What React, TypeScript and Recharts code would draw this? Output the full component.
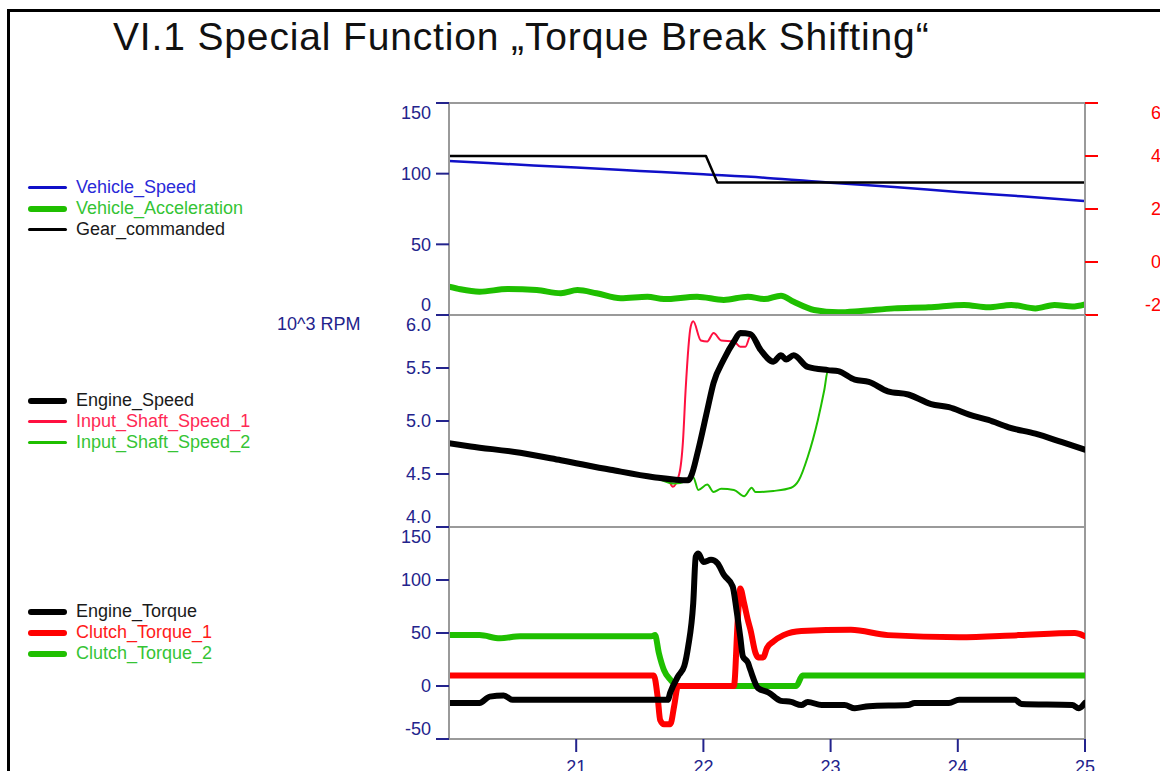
import React from "react";
import { LineChart, Line, XAxis, YAxis, ReferenceLine } from "recharts";

type Pt = [number, number]; // [time s, value]

const FONT = "'Liberation Sans', Arial, Helvetica, sans-serif";
const NAVY = "#23238c";
const FRAME = "#9a9a9a";

// axis ticks
const timeTicks = [21, 22, 23, 24, 25];
const speedTicks = [0, 50, 100, 150];
const accelTicks = [-2, 0, 2, 4, 6];
const rpmTicks = [4.0, 4.5, 5.0, 5.5, 6.0];
const torqueTicks = [-50, 0, 50, 100, 150];

// panel 1: vehicle
const vehicleSpeed: Pt[] = [
  [20, 108.9], [20.5, 106.6], [21, 104.3], [21.5, 101.9], [22, 99.5],
  [22.5, 97.0], [23, 93.6], [23.5, 90.6], [24, 87.1], [24.5, 84.0], [25, 80.6],
];
const vehicleAcceleration: Pt[] = [
  [20.0, -0.93], [20.09, -1.03], [20.24, -1.12], [20.46, -1.02], [20.69, -1.06],
  [20.88, -1.18], [21.01, -1.06], [21.16, -1.18], [21.35, -1.37], [21.56, -1.31],
  [21.69, -1.4], [21.95, -1.31], [22.16, -1.43], [22.35, -1.31], [22.48, -1.4],
  [22.61, -1.27], [22.71, -1.5], [22.87, -1.81], [23.06, -1.9], [23.24, -1.85],
  [23.5, -1.75], [23.77, -1.71], [24.05, -1.62], [24.24, -1.71], [24.42, -1.62],
  [24.61, -1.75], [24.76, -1.62], [24.9, -1.68], [25.0, -1.6],
];
const gearCommanded: Pt[] = [[20, 4], [22.02, 4], [22.11, 3], [25, 3]];

// panel 2: speeds, 10^3 rpm
const engineSpeed: Pt[] = [
  [20.0, 4.79], [20.17, 4.76], [20.56, 4.7], [20.88, 4.63], [21.27, 4.54],
  [21.61, 4.47], [21.88, 4.44], [21.9, 4.47], [21.96, 4.73], [22.03, 5.1],
  [22.08, 5.36], [22.16, 5.58], [22.24, 5.75], [22.29, 5.83], [22.37, 5.82],
  [22.45, 5.67], [22.55, 5.56], [22.61, 5.62], [22.65, 5.58], [22.71, 5.62],
  [22.82, 5.51], [22.98, 5.48], [23.06, 5.47], [23.19, 5.39], [23.3, 5.37],
  [23.45, 5.28], [23.61, 5.25], [23.79, 5.16], [23.93, 5.13], [24.09, 5.06],
  [24.24, 5.01], [24.4, 4.94], [24.61, 4.88], [24.82, 4.8], [25.0, 4.73],
];
const inputShaftSpeed1: Pt[] = [
  [20.0, 4.79], [20.17, 4.76], [20.56, 4.7], [20.88, 4.63], [21.27, 4.54],
  [21.61, 4.47], [21.72, 4.45], [21.76, 4.38], [21.81, 4.5], [21.84, 4.82],
  [21.86, 5.29], [21.9, 5.89], [21.92, 5.94], [21.98, 5.76], [22.03, 5.75],
  [22.08, 5.83], [22.14, 5.76], [22.24, 5.75], [22.29, 5.7], [22.33, 5.7],
  [22.37, 5.8], [22.45, 5.67], [22.55, 5.56], [22.61, 5.62], [22.65, 5.58],
  [22.71, 5.62], [22.82, 5.51], [22.98, 5.48], [23.06, 5.47], [23.19, 5.39],
  [23.3, 5.37], [23.45, 5.28], [23.61, 5.25], [23.79, 5.16], [23.93, 5.13],
  [24.09, 5.06], [24.24, 5.01], [24.4, 4.94], [24.61, 4.88], [24.82, 4.8], [25.0, 4.73],
];
const inputShaftSpeed2: Pt[] = [
  [20.0, 4.79], [20.17, 4.76], [20.56, 4.7], [20.88, 4.63], [21.27, 4.54],
  [21.61, 4.47], [21.77, 4.41], [21.88, 4.44], [21.92, 4.47], [21.96, 4.35],
  [22.03, 4.4], [22.08, 4.33], [22.14, 4.36], [22.24, 4.35], [22.32, 4.29],
  [22.38, 4.37], [22.41, 4.33], [22.55, 4.34], [22.69, 4.37], [22.75, 4.44],
  [22.82, 4.66], [22.9, 5.01], [22.95, 5.29], [22.98, 5.48], [23.06, 5.47],
  [23.19, 5.39], [23.3, 5.37], [23.45, 5.28], [23.61, 5.25], [23.79, 5.16],
  [23.93, 5.13], [24.09, 5.06], [24.24, 5.01], [24.4, 4.94], [24.61, 4.88],
  [24.82, 4.8], [25.0, 4.73],
];

// panel 3: torques
const engineTorque: Pt[] = [
  [20.0, -16], [20.24, -16], [20.32, -10], [20.43, -9], [20.5, -13], [21.56, -13],
  [21.72, -13], [21.74, -6], [21.8, 9], [21.85, 19], [21.88, 37], [21.92, 78],
  [21.94, 122], [21.96, 125], [22.0, 117], [22.06, 119], [22.11, 116], [22.16, 105],
  [22.23, 94], [22.26, 72], [22.29, 46], [22.31, 28], [22.35, 22], [22.37, 15],
  [22.43, -2], [22.51, -6], [22.61, -14], [22.69, -15], [22.77, -18], [22.82, -15],
  [22.93, -18], [23.11, -18], [23.19, -21], [23.3, -19], [23.61, -18], [23.66, -16],
  [23.93, -16], [24.01, -13], [24.45, -13], [24.5, -17], [24.9, -18], [24.95, -21],
  [25.0, -16],
];
const clutchTorque1: Pt[] = [
  [20.0, 10], [21.61, 10], [21.64, -10], [21.66, -32], [21.69, -36], [21.74, -36],
  [21.77, -19], [21.8, 0], [22.24, 0], [22.27, 62], [22.29, 92], [22.32, 78],
  [22.35, 62], [22.37, 53], [22.41, 31], [22.43, 27], [22.47, 27], [22.5, 36],
  [22.55, 42], [22.63, 48], [22.77, 52], [23.16, 53], [23.45, 48], [24.01, 46],
  [24.48, 48], [24.92, 50], [25.0, 47],
];
const clutchTorque2: Pt[] = [
  [20.0, 48], [20.24, 48], [20.4, 45], [20.56, 47], [21.59, 47], [21.62, 48],
  [21.65, 31], [21.69, 15], [21.74, 6], [21.8, 0], [22.73, 0], [22.78, 10], [25.0, 10],
];

const rows = (pts: Pt[]) => pts.map(([t, v]) => ({ t, v }));

type Series = {
  name: string; pts: Pt[]; color: string; text: string; width: number;
  axis?: string; curve?: "linear" | "monotone";
};

const topSeries: Series[] = [
  { name: "Vehicle_Speed", pts: vehicleSpeed, color: "#1010c8", text: "#2a2ad8", width: 2.5, axis: "left" },
  { name: "Vehicle_Acceleration", pts: vehicleAcceleration, color: "#1fbf00", text: "#35c435", width: 6, axis: "right" },
  { name: "Gear_commanded", pts: gearCommanded, color: "#000000", text: "#1a1a1a", width: 2.5, axis: "right", curve: "linear" },
];
const midSeries: Series[] = [
  { name: "Engine_Speed", pts: engineSpeed, color: "#000000", text: "#1a1a1a", width: 6 },
  { name: "Input_Shaft_Speed_1", pts: inputShaftSpeed1, color: "#ff1040", text: "#ff2a55", width: 2 },
  { name: "Input_Shaft_Speed_2", pts: inputShaftSpeed2, color: "#1fbf00", text: "#35c435", width: 2 },
];
const lowSeries: Series[] = [
  { name: "Engine_Torque", pts: engineTorque, color: "#000000", text: "#1a1a1a", width: 6 },
  { name: "Clutch_Torque_1", pts: clutchTorque1, color: "#ff0000", text: "#ff1a1a", width: 6 },
  { name: "Clutch_Torque_2", pts: clutchTorque2, color: "#1fbf00", text: "#35c435", width: 6 },
];

function YTick(props: any) {
  const { x, y, payload, lo, hi, fill, fx, anchor, digits } = props;
  const v = payload.value;
  const dy = v === hi ? 10 : v === lo ? -10 : 0;
  return (
    <text x={fx ?? x} y={y + dy} dy="0.36em" textAnchor={anchor || "end"} fill={fill}
      fontSize={18} fontFamily={FONT}>
      {digits ? Number(v).toFixed(digits) : v}
    </text>
  );
}

function XTick(props: any) {
  const { x, y, payload } = props;
  return (
    <text x={x} y={y} dy="0.71em" textAnchor="middle" fill={NAVY} fontSize={18} fontFamily={FONT}>
      {payload.value}
    </text>
  );
}

function Legend({ items, top }: { items: Series[]; top: number }) {
  return (
    <div style={{ position: "absolute", left: 28, top, fontFamily: FONT, fontSize: 18, lineHeight: "21px" }}>
      {items.map((s) => (
        <div key={s.name} style={{ display: "flex", alignItems: "center", height: 21 }}>
          <span style={{ width: 39, height: s.width > 3 ? 6 : 2.5, borderRadius: 4, background: s.color, marginRight: 9 }} />
          <span style={{ color: s.text }}>{s.name}</span>
        </div>
      ))}
    </div>
  );
}

function renderLine(s: Series) {
  return (
    <Line key={s.name} yAxisId={s.axis ?? 0} data={rows(s.pts)} dataKey="v" name={s.name}
      type={s.curve ?? "monotone"} stroke={s.color} strokeWidth={s.width} dot={false}
      isAnimationActive={false} strokeLinejoin="round" strokeLinecap="round" />
  );
}

const leftAxisProps = {
  width: 449,
  tickSize: 13,
  tickMargin: 5,
  axisLine: { stroke: FRAME, strokeWidth: 2 },
  tickLine: { stroke: NAVY, strokeWidth: 2 },
  interval: 0 as const,
};

export default function App() {
  return (
    <div style={{ position: "absolute", left: 0, top: 0, width: 1160, height: 771, overflow: "hidden", background: "#fff", fontFamily: FONT }}>
      <div style={{ position: "absolute", left: 7, top: 9, width: 1200, height: 800, borderTop: "3px solid #000", borderLeft: "3px solid #000" }} />
      <div style={{ position: "absolute", left: 113, top: 17, fontSize: 39, lineHeight: "39px", letterSpacing: 0.85, color: "#111", whiteSpace: "nowrap" }}>
        VI.1 Special Function „Torque Break Shifting“
      </div>

      <Legend items={topSeries} top={177} />
      <Legend items={midSeries} top={390} />
      <Legend items={lowSeries} top={601} />

      <div style={{ position: "absolute", left: 277, top: 314, fontSize: 18, color: NAVY, whiteSpace: "nowrap" }}>10^3 RPM</div>

      {/* panel 1 */}
      <div style={{ position: "absolute", left: 0, top: 90 }}>
        <LineChart width={1160} height={240} margin={{ top: 13, right: 0, bottom: 15, left: 0 }}>
          <XAxis type="number" dataKey="t" domain={[20, 25]} allowDataOverflow hide />
          <YAxis yAxisId="left" domain={[0, 150]} ticks={speedTicks} {...leftAxisProps}
            tick={(p: any) => <YTick {...p} lo={0} hi={150} fill={NAVY} />} />
          <YAxis yAxisId="right" orientation="right" domain={[-2, 6]} ticks={accelTicks} width={75}
            tickSize={13} interval={0} axisLine={{ stroke: FRAME, strokeWidth: 2 }} tickLine={{ stroke: "#ff0000", strokeWidth: 2 }}
            tick={(p: any) => <YTick {...p} lo={-2} hi={6} fill="#ff0000" fx={1161} anchor="end" />} />
          <ReferenceLine yAxisId="left" y={150} stroke={FRAME} strokeWidth={2} />
          <ReferenceLine yAxisId="left" y={0} stroke={FRAME} strokeWidth={2} />
          {[topSeries[1], topSeries[0], topSeries[2]].map(renderLine)}
        </LineChart>
      </div>

      {/* panel 2 */}
      <div style={{ position: "absolute", left: 0, top: 300 }}>
        <LineChart width={1160} height={240} margin={{ top: 15, right: 75, bottom: 13, left: 0 }}>
          <XAxis type="number" dataKey="t" domain={[20, 25]} allowDataOverflow hide />
          <YAxis domain={[4, 6]} ticks={rpmTicks} {...leftAxisProps}
            tick={(p: any) => <YTick {...p} lo={4} hi={6} fill={NAVY} digits={1} />} />
          <ReferenceLine y={6} stroke={FRAME} strokeWidth={2} />
          <ReferenceLine y={4} stroke={FRAME} strokeWidth={2} />
          <ReferenceLine x={25} stroke={FRAME} strokeWidth={2} />
          {[midSeries[1], midSeries[2], midSeries[0]].map(renderLine)}
        </LineChart>
      </div>

      {/* panel 3 */}
      <div style={{ position: "absolute", left: 0, top: 515 }}>
        <LineChart width={1160} height={256} margin={{ top: 12, right: 75, bottom: 0, left: 0 }}>
          <XAxis type="number" dataKey="t" domain={[20, 25]} allowDataOverflow ticks={timeTicks} interval={0}
            height={32} tickSize={13} tickMargin={8} axisLine={{ stroke: FRAME, strokeWidth: 2 }}
            tickLine={{ stroke: NAVY, strokeWidth: 2 }} tick={(p: any) => <XTick {...p} />} />
          <YAxis domain={[-50, 150]} ticks={torqueTicks} {...leftAxisProps}
            tick={(p: any) => <YTick {...p} lo={-50} hi={150} fill={NAVY} />} />
          <ReferenceLine y={150} stroke={FRAME} strokeWidth={2} />
          <ReferenceLine x={25} stroke={FRAME} strokeWidth={2} />
          {[lowSeries[2], lowSeries[1], lowSeries[0]].map(renderLine)}
        </LineChart>
      </div>
    </div>
  );
}
